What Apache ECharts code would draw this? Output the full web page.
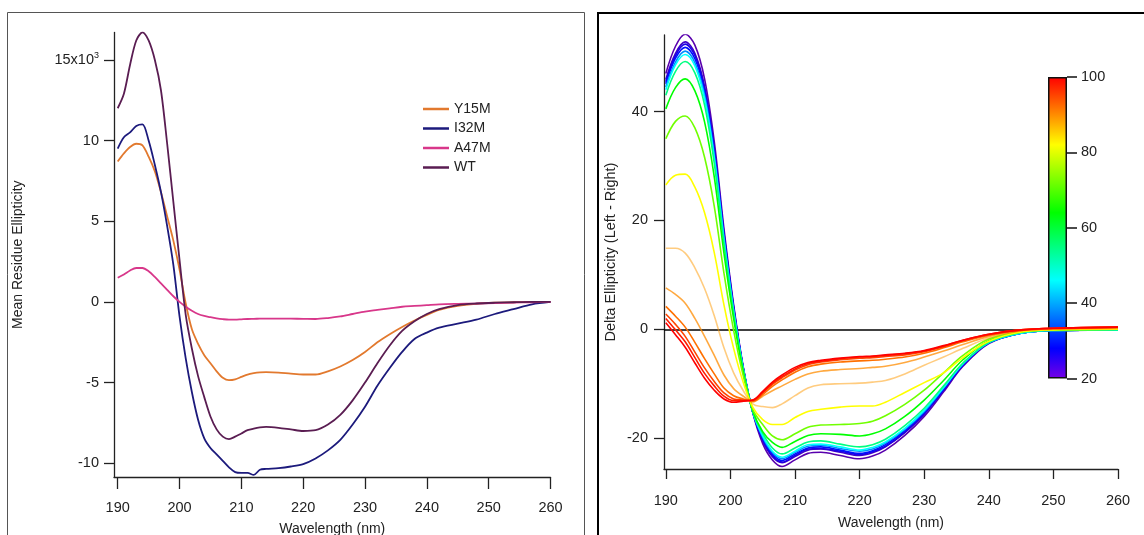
<!DOCTYPE html>
<html><head><meta charset="utf-8">
<script src="https://cdn.jsdelivr.net/npm/echarts@6/dist/echarts.min.js"></script>
<style>html,body{margin:0;padding:0;background:#fff}#c{width:1144px;height:535px}</style>
</head><body><div id="c"></div>
<script>
// ---------- Left panel data (mean residue ellipticity, x10^3) ----------
const wavesL = [190,191,192,193,194,195,196,197,198,199,200,201,202,203,204,205,206,207,208,209,210,211,212,213,214,
  216,218,220,222,224,226,228,230,232,234,236,238,240,242,245,248,251,254,257,260];
const y15m = [8.7,9.2,9.6,9.8,9.7,9.0,8.1,6.8,5.3,3.8,2.0,-0.1,-1.7,-2.6,-3.3,-3.8,-4.3,-4.7,-4.85,-4.8,-4.65,-4.5,-4.42,-4.37,-4.35,
  -4.38,-4.45,-4.5,-4.5,-4.3,-4.0,-3.6,-3.1,-2.5,-2.0,-1.55,-1.15,-0.8,-0.5,-0.25,-0.12,-0.05,-0.02,0,0];
const i32m = [9.5,10.2,10.5,10.9,11.0,10.0,8.5,6.8,4.7,2.3,-0.9,-3.5,-5.6,-7.3,-8.45,-9.05,-9.45,-9.85,-10.25,-10.55,-10.6,-10.6,-10.72,-10.4,-10.35,
  -10.3,-10.2,-10.05,-9.7,-9.2,-8.55,-7.6,-6.5,-5.2,-4.1,-3.1,-2.3,-1.9,-1.6,-1.35,-1.1,-0.75,-0.45,-0.15,0];
const a47m = [1.5,1.7,1.95,2.1,2.1,1.9,1.55,1.15,0.75,0.35,0.0,-0.3,-0.55,-0.75,-0.87,-0.95,-1.02,-1.07,-1.1,-1.1,-1.08,-1.06,-1.05,-1.04,-1.03,
  -1.03,-1.04,-1.05,-1.06,-1.0,-0.9,-0.75,-0.6,-0.5,-0.4,-0.3,-0.25,-0.2,-0.15,-0.12,-0.1,-0.07,-0.05,-0.02,0];
const wt = [12.0,12.9,14.7,16.2,16.7,16.2,15.0,13.1,9.8,6.2,2.6,-0.8,-2.9,-4.6,-5.9,-7.1,-7.9,-8.35,-8.5,-8.35,-8.15,-7.95,-7.85,-7.78,-7.75,
  -7.8,-7.9,-8.0,-7.95,-7.6,-7.0,-6.1,-5.0,-3.8,-2.7,-1.8,-1.2,-0.75,-0.45,-0.2,-0.1,-0.05,-0.02,0,0];
const namesL = ['Y15M','I32M','A47M','WT'];
const xTicks = [190,200,210,220,230,240,250,260];
const yTicksL = [-10,-5,0,5,10,15];

// ---------- Right panel data (delta ellipticity vs temperature) ----------
const wavesR = [190,191.5,193,194.5,196,197.5,199,200.5,202,203.5,205,206.5,208,210,212,214,217,220,222,224,227,230,233,236,240,245,250,260];
const t20 = [47.0,52.0,54.2,52.2,46.0,34.5,18.5,4.5,-7.0,-15.5,-21.0,-24.0,-25.2,-24.0,-22.8,-22.6,-23.2,-23.8,-23.3,-22.2,-19.5,-16.0,-11.5,-6.8,-2.6,-0.7,-0.25,-0.1];
const t23 = [45.9,50.7,52.8,50.7,44.6,33.4,17.7,4.1,-7.2,-15.4,-20.5,-23.4,-24.5,-23.4,-22.2,-22.0,-22.6,-23.2,-22.7,-21.6,-19.0,-15.6,-11.2,-6.6,-2.5,-0.7,-0.2,-0.1];
const t26 = [45.5,50.3,52.4,50.3,44.2,33.0,17.5,3.9,-7.2,-15.4,-20.3,-23.2,-24.4,-23.2,-22.0,-21.9,-22.4,-23.0,-22.5,-21.5,-18.9,-15.5,-11.1,-6.6,-2.5,-0.7,-0.2,-0.1];
const t29 = [45.1,49.8,51.8,49.7,43.7,32.6,17.2,3.7,-7.3,-15.4,-20.1,-22.9,-24.1,-22.9,-21.8,-21.6,-22.2,-22.8,-22.3,-21.2,-18.6,-15.3,-11.0,-6.5,-2.5,-0.7,-0.2,-0.1];
const t38 = [44.5,49.1,51.1,49.0,43.0,32.0,16.8,3.5,-7.3,-15.4,-19.8,-22.6,-23.8,-22.6,-21.5,-21.3,-21.9,-22.4,-22.0,-20.9,-18.4,-15.1,-10.8,-6.4,-2.5,-0.7,-0.2,-0.1];
const t46 = [44.0,48.6,50.5,48.4,42.4,31.5,16.5,3.3,-7.4,-15.3,-19.6,-22.4,-23.5,-22.4,-21.2,-21.1,-21.6,-22.2,-21.7,-20.7,-18.2,-14.9,-10.7,-6.3,-2.4,-0.7,-0.2,-0.1];
const t55 = [43.0,47.4,49.2,47.1,41.2,30.5,15.8,2.9,-7.5,-15.3,-19.1,-21.8,-22.9,-21.8,-20.7,-20.5,-21.1,-21.6,-21.2,-20.2,-17.7,-14.5,-10.4,-6.2,-2.4,-0.6,-0.2,-0.1];
const t64 = [40.5,44.4,46.0,43.8,38.1,28.0,14.0,1.9,-7.9,-15.1,-18.8,-20.8,-21.7,-20.6,-19.5,-19.2,-19.3,-19.6,-19.2,-18.3,-16.0,-13.0,-9.4,-5.6,-2.1,-0.5,-0.1,0.0];
const t72 = [35.0,38.2,39.2,37.0,31.6,22.6,10.3,-0.2,-8.6,-14.8,-17.5,-19.6,-20.3,-19.2,-18.0,-17.6,-17.5,-17.3,-16.9,-15.9,-13.8,-11.2,-8.0,-4.8,-1.8,-0.4,-0.1,0.0];
const t82 = [26.5,28.3,28.5,26.1,21.4,14.1,4.5,-3.5,-9.8,-14.4,-16.6,-17.5,-17.5,-16.2,-15.1,-14.7,-14.3,-14.1,-14.1,-13.4,-11.6,-9.8,-8.0,-5.2,-2.2,-0.5,-0.1,0.0];
const t89 = [14.9,14.9,14.0,11.3,7.5,2.5,-3.4,-8.0,-11.3,-13.75,-14.2,-14.4,-13.7,-12.2,-10.8,-10.2,-10.0,-9.9,-9.7,-9.4,-8.2,-6.6,-5.1,-3.5,-1.6,-0.3,0.0,0.1];
const t90 = [7.6,6.4,4.8,2.0,-1.3,-4.8,-8.4,-10.9,-12.3,-13.35,-12.3,-11.3,-10.4,-9.2,-8.2,-7.7,-7.4,-7.2,-7.0,-6.8,-6.1,-5.1,-4.0,-2.8,-1.3,-0.2,0.1,0.3];
const t92 = [4.2,2.4,0.4,-2.4,-5.4,-8.2,-10.8,-12.2,-12.8,-13.2,-12.0,-10.5,-9.3,-7.9,-6.9,-6.4,-6.0,-5.8,-5.7,-5.5,-5.1,-4.4,-3.4,-2.3,-1.1,-0.2,0.1,0.35];
const t95 = [2.8,0.9,-1.3,-4.2,-7.1,-9.6,-11.7,-12.8,-13.0,-13.1,-11.7,-10.1,-8.9,-7.5,-6.5,-6.0,-5.6,-5.3,-5.2,-5.0,-4.7,-4.1,-3.2,-2.1,-1.0,-0.1,0.15,0.4];
const t98 = [2.0,-0.1,-2.3,-5.2,-8.1,-10.4,-12.3,-13.1,-13.1,-13.0,-11.6,-9.9,-8.7,-7.3,-6.3,-5.9,-5.4,-5.1,-5.0,-4.8,-4.5,-4.0,-3.1,-2.0,-0.9,-0.1,0.2,0.4];
const t100 = [1.2,-1.0,-3.3,-6.2,-9.0,-11.2,-12.8,-13.4,-13.2,-13.0,-11.4,-9.7,-8.4,-7.0,-6.1,-5.7,-5.3,-5.0,-4.9,-4.7,-4.4,-3.9,-3.0,-2.0,-0.9,-0.1,0.2,0.4];
const temps = [20,23,26,29,38,46,55,64,72,82,89,90,92,95,98,100];
const curvesR = [t20,t23,t26,t29,t38,t46,t55,t64,t72,t82,t89,t90,t92,t95,t98,t100];
const yTicksR = [-20,0,20,40];
const cbTicks = [20,40,60,80,100];

// ---------- styles ----------
const FONT = 'Liberation Sans, Arial, sans-serif';
const colorsL = ['#e2792e','#1c1a7c','#d8378a','#5a1d52'];
const rainbow = [[20,[118,0,230]],[28,[0,0,255]],[46,[0,255,255]],[64,[0,255,0]],[82,[255,255,0]],[90,[255,140,0]],[100,[255,0,0]]];
function tempColor(t){
  for(let i=0;i<rainbow.length-1;i++){
    const [a,ca]=rainbow[i],[b,cb]=rainbow[i+1];
    if(t>=a&&t<=b){const f=(t-a)/(b-a);
      const c=ca.map((v,k)=>Math.round(v+(cb[k]-v)*f));return 'rgb('+c.join(',')+')';}
  }
  return 'rgb(255,0,0)';
}
function tempOpacity(t){ if(t>86&&t<89.5) return 0.5; if(t>=89.5&&t<91) return 0.75; return 1; }
function tempShade(t){ return t<27 ? 0.25 : 0; }
const pair = (xs, ys) => xs.map((x,i)=>[x, ys[i]]);

const axisLineStyle = {color:'#222', width:1.3};
const series = [];
[y15m,i32m,a47m,wt].forEach((d,i)=>{
  series.push({type:'line', name:namesL[i], xAxisIndex:0, yAxisIndex:0, data:pair(wavesL,d),
    showSymbol:false, symbol:'none', smooth:0.3, lineStyle:{width:1.8, color:colorsL[i]}, itemStyle:{color:colorsL[i]}, z:3});
});
curvesR.forEach((d,i)=>{
  let c = tempColor(temps[i]);
  const sh = tempShade(temps[i]);
  if(sh>0){ const m=c.match(/\d+/g).map(Number).map(v=>Math.round(v*(1-sh*(1-i/3)))); c='rgb('+m.join(',')+')'; }
  const s = {type:'line', name:'T'+temps[i], xAxisIndex:1, yAxisIndex:1, data:pair(wavesR,d),
    showSymbol:false, symbol:'none', smooth:0.35, lineStyle:{width:1.6, color:c, opacity:tempOpacity(temps[i])}, itemStyle:{color:c}, z:3};
  if(i===0){ s.markLine = {silent:true, symbol:'none', label:{show:false}, lineStyle:{color:'#000', width:1.5, type:'solid'}, data:[{yAxis:0}], z:2}; }
  series.push(s);
});
// colour bar: stacked bars on their own value axis
const gradStops = rainbow.map(([t,c])=>({offset:(100-t)/80, color:'rgb('+c.join(',')+')'})).sort((a,b)=>a.offset-b.offset);
series.push({type:'bar', xAxisIndex:2, yAxisIndex:2, stack:'cb', data:[cbTicks[0]], barWidth:'100%', itemStyle:{color:'rgba(0,0,0,0)'}, silent:true});
series.push({type:'bar', xAxisIndex:2, yAxisIndex:2, stack:'cb', data:[cbTicks[cbTicks.length-1]-cbTicks[0]], barWidth:'100%', silent:true,
  itemStyle:{borderColor:'#111', borderWidth:1.5, color:new echarts.graphic.LinearGradient(0,0,0,1,gradStops)}});

const chart = echarts.init(document.getElementById('c'), null, {renderer:'canvas'});
chart.setOption({
  animation:false,
  backgroundColor:'#fff',
  textStyle:{fontFamily:FONT},
  graphic:[
    {type:'rect', shape:{x:7.5, y:12.5, width:577, height:540}, style:{fill:'none', stroke:'#555', lineWidth:1}, z:-1},
    {type:'rect', shape:{x:598, y:13, width:560, height:540}, style:{fill:'none', stroke:'#000', lineWidth:2}, z:-1}
  ],
  legend:{data:namesL, orient:'vertical', left:418, top:97, itemWidth:26, itemHeight:14, itemGap:5.5,
    textStyle:{fontSize:14, color:'#222', fontFamily:FONT}, icon:'path://M0,6L26,6L26,8.5L0,8.5Z'},
  grid:[
    {left:114, top:32.4, right:593.5, bottom:58, outerBoundsMode:'none', containLabel:false},
    {left:664, top:35, right:26, bottom:66, outerBoundsMode:'none', containLabel:false},
    {left:1048, top:77, width:19, height:301.5, outerBoundsMode:'none', containLabel:false}
  ],
  xAxis:[
    {type:'value', gridIndex:0, min:189.4, max:260, name:'Wavelength (nm)', nameLocation:'middle', nameGap:45,
      nameTextStyle:{fontSize:14, color:'#222'},
      axisLine:{onZero:false, lineStyle:axisLineStyle}, axisTick:{customValues:xTicks, length:12, lineStyle:axisLineStyle},
      axisLabel:{customValues:xTicks, margin:23, fontSize:14.5, color:'#222'}, splitLine:{show:false}},
    {type:'value', gridIndex:1, min:189.72, max:260, name:'Wavelength (nm)', nameLocation:'middle', nameGap:47,
      nameTextStyle:{fontSize:14, color:'#222'},
      axisLine:{onZero:false, lineStyle:axisLineStyle}, axisTick:{customValues:xTicks, length:10, lineStyle:axisLineStyle},
      axisLabel:{customValues:xTicks, margin:24, fontSize:14.5, color:'#222'}, splitLine:{show:false}},
    {type:'category', gridIndex:2, data:['bar'], show:false}
  ],
  yAxis:[
    {type:'value', gridIndex:0, min:-10.85, max:16.7, name:'Mean Residue Ellipticity', nameLocation:'middle', nameGap:89,
      nameTextStyle:{fontSize:14, color:'#222'},
      axisLine:{onZero:false, lineStyle:axisLineStyle}, axisTick:{customValues:yTicksL, length:10, lineStyle:axisLineStyle},
      axisLabel:{customValues:yTicksL, margin:15, fontSize:14.5, color:'#222',
        formatter:v=> v===15 ? '15x10{s|3}' : String(v),
        rich:{s:{fontSize:9, verticalAlign:'top', padding:[0,0,8,0], color:'#222'}}},
      splitLine:{show:false}},
    {type:'value', gridIndex:1, min:-25.67, max:54.07, name:'Delta Ellipticity (Left - Right)', nameLocation:'middle', nameGap:46,
      nameTextStyle:{fontSize:14.5, color:'#222'},
      axisLine:{onZero:false, lineStyle:axisLineStyle}, axisTick:{customValues:yTicksR, length:10, lineStyle:axisLineStyle},
      axisLabel:{customValues:yTicksR, margin:16, fontSize:14.5, color:'#222'}, splitLine:{show:false}},
    {type:'value', gridIndex:2, min:20, max:100, interval:20, position:'right',
      axisLine:{show:false}, axisTick:{show:true, length:10, lineStyle:{color:'#111', width:1.5}},
      axisLabel:{margin:14, fontSize:14.5, color:'#222'}, splitLine:{show:false}}
  ],
  series:series
});
</script></body></html>
